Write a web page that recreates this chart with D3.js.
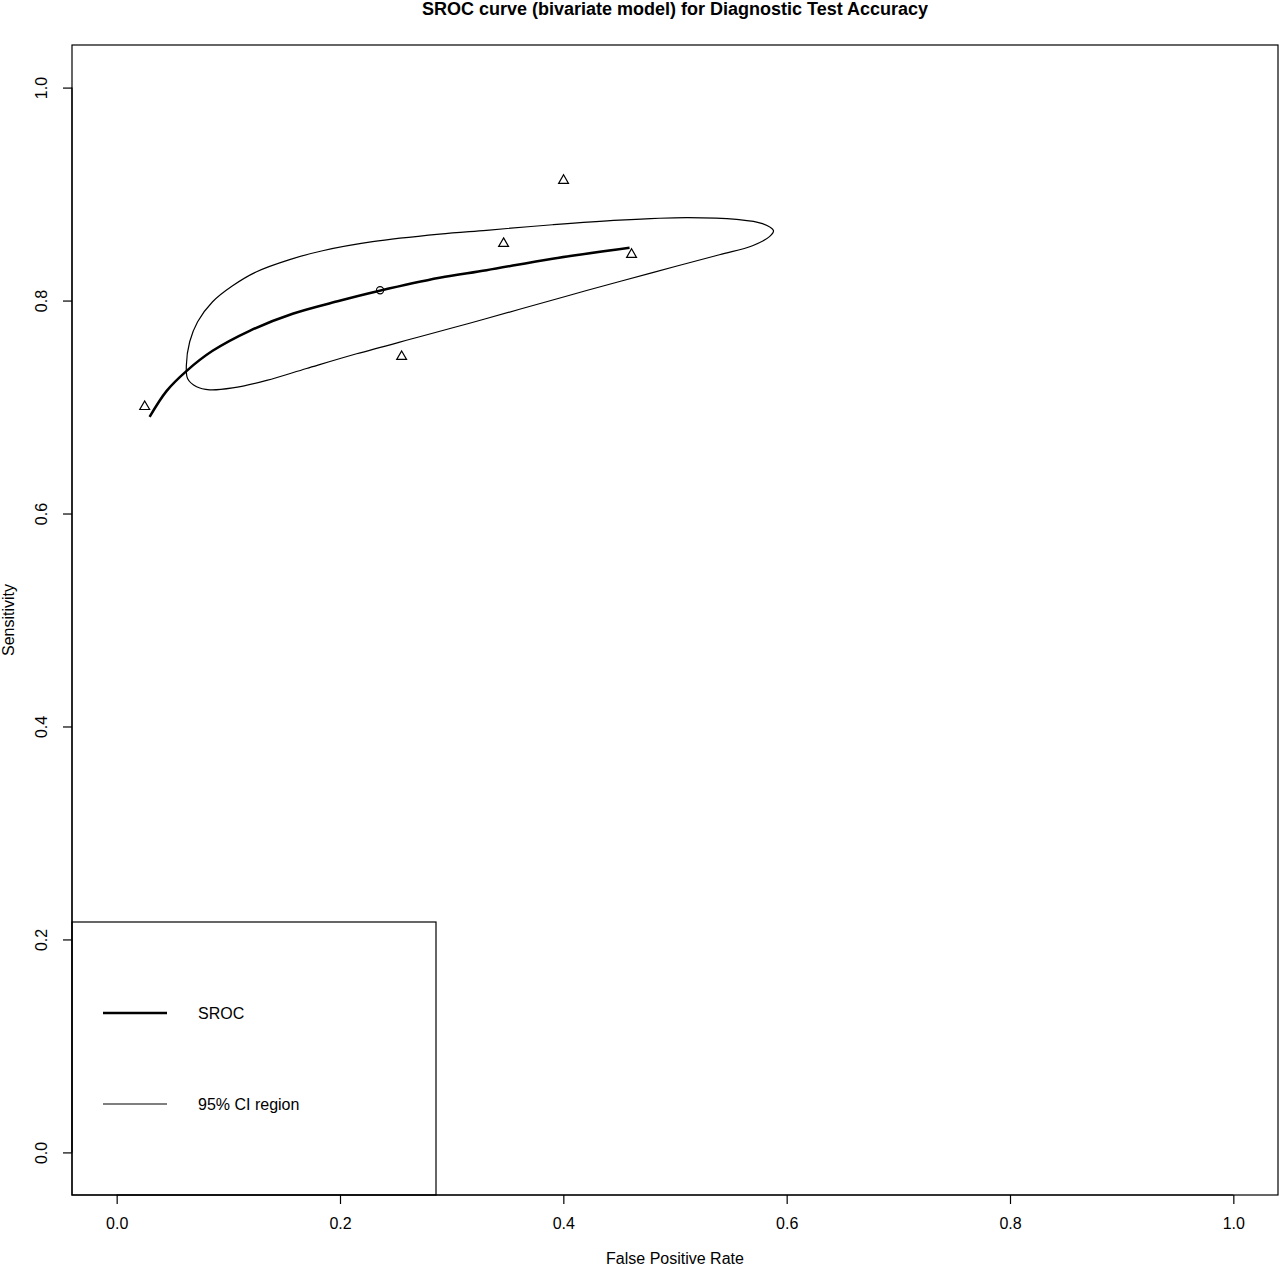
<!DOCTYPE html>
<html>
<head>
<meta charset="utf-8">
<script src="https://cdn.jsdelivr.net/npm/d3@7/dist/d3.min.js"></script>
<style>
  html, body { margin: 0; padding: 0; background: #fff; }
  svg { display: block; font-family: "Liberation Sans", Arial, Helvetica, sans-serif; }
</style>
</head>
<body>
<svg id="chart" width="1280" height="1268"></svg>
<script>
// ---- Data ----
const chartTitle = "SROC curve (bivariate model) for Diagnostic Test Accuracy";
const xLabel = "False Positive Rate";
const yLabel = "Sensitivity";
const tickValues = [0.0, 0.2, 0.4, 0.6, 0.8, 1.0];
const tickLabels = ["0.0", "0.2", "0.4", "0.6", "0.8", "1.0"];

// individual studies (false positive rate, sensitivity)
const studyFpr  = [0.0251, 0.2552, 0.3465, 0.4002, 0.4611];
const studySens = [0.7011, 0.7481, 0.8543, 0.9135, 0.8440];

// summary estimate
const summaryFpr = [0.2359];
const summarySens = [0.8097];

// SROC curve
const srocFpr  = [0.0295, 0.0448, 0.0627, 0.0859, 0.1191, 0.1576, 0.1996, 0.2355, 0.2892, 0.3312, 0.3903, 0.4593];
const srocSens = [0.6908, 0.7152, 0.7340, 0.7528, 0.7716, 0.7876, 0.7998, 0.8092, 0.8214, 0.8285, 0.8393, 0.8496];

// 95% confidence region (closed contour)
const ciFpr  = [0.0624, 0.0654, 0.0725, 0.0859, 0.1038, 0.1253, 0.1549, 0.1844, 0.2292, 0.2892, 0.3312, 0.3903,
                0.4503, 0.5103, 0.5551, 0.5783, 0.5882, 0.5846, 0.5694, 0.5398, 0.4799, 0.4208, 0.3608, 0.3160,
                0.2713, 0.2149, 0.1701, 0.1343, 0.1038, 0.0833, 0.0716, 0.0636];
const ciSens = [0.7390, 0.7613, 0.7801, 0.7989, 0.8139, 0.8271, 0.8385, 0.8468, 0.8553, 0.8624, 0.8660, 0.8712,
                0.8755, 0.8778, 0.8762, 0.8722, 0.8656, 0.8600, 0.8515, 0.8430, 0.8263, 0.8094, 0.7918, 0.7787,
                0.7660, 0.7500, 0.7362, 0.7250, 0.7180, 0.7162, 0.7190, 0.7265];

const legendLabels = ["SROC", "95% CI region"];
const legendWidths = [2.5, 1.2];

// ---- Layout ----
const svg = d3.select("#chart");
const plot = { left: 72, right: 1278, top: 45, bottom: 1195 };

const x = d3.scaleLinear().domain([-0.04, 1.04]).range([plot.left, plot.right]);
const y = d3.scaleLinear().domain([-0.04, 1.04]).range([plot.bottom, plot.top]);

// Title
svg.append("text")
  .attr("x", (plot.left + plot.right) / 2)
  .attr("y", 15)
  .attr("text-anchor", "middle")
  .attr("font-weight", "bold")
  .attr("font-size", 18)
  .text(chartTitle);

// Axes
const fmt = (d) => tickLabels[tickValues.indexOf(d)];
const xAxis = d3.axisBottom(x).tickValues(tickValues).tickFormat(fmt).tickSize(9).tickSizeOuter(0);
const yAxis = d3.axisLeft(y).tickValues(tickValues).tickFormat(fmt).tickSize(9).tickSizeOuter(0);

const gx = svg.append("g").attr("transform", `translate(0,${plot.bottom})`).call(xAxis);
gx.select(".domain").attr("d", `M${x(0)},0H${x(1)}`).attr("stroke", "#000").attr("stroke-width", 1.2);
gx.selectAll(".tick line").attr("stroke", "#000").attr("stroke-width", 1.2);
gx.selectAll(".tick text").attr("font-size", 16).attr("fill", "#000").attr("y", 34).attr("dy", null)
  .attr("font-family", "Liberation Sans, Arial, sans-serif");

const gy = svg.append("g").attr("transform", `translate(${plot.left},0)`).call(yAxis);
gy.select(".domain").attr("d", `M0,${y(0)}V${y(1)}`).attr("stroke", "#000").attr("stroke-width", 1.2);
gy.selectAll(".tick line").attr("stroke", "#000").attr("stroke-width", 1.2);
gy.selectAll(".tick text")
  .attr("font-size", 16).attr("fill", "#000")
  .attr("font-family", "Liberation Sans, Arial, sans-serif")
  .attr("x", null).attr("dy", null)
  .attr("text-anchor", "middle")
  .attr("transform", "translate(-31,0) rotate(-90)")
  .attr("y", 6);

// Box
svg.append("rect")
  .attr("x", plot.left).attr("y", plot.top)
  .attr("width", plot.right - plot.left).attr("height", plot.bottom - plot.top)
  .attr("fill", "none").attr("stroke", "#000").attr("stroke-width", 1.2);

// Axis labels
svg.append("text")
  .attr("x", (plot.left + plot.right) / 2).attr("y", 1264)
  .attr("text-anchor", "middle").attr("font-size", 16)
  .text(xLabel);
svg.append("text")
  .attr("transform", `translate(14,${(plot.top + plot.bottom) / 2}) rotate(-90)`)
  .attr("text-anchor", "middle").attr("font-size", 16)
  .text(yLabel);

// CI region
const ciPts = ciFpr.map((f, i) => [x(f), y(ciSens[i])]);
svg.append("path")
  .attr("d", d3.line().curve(d3.curveCatmullRomClosed.alpha(0.5))(ciPts))
  .attr("fill", "none").attr("stroke", "#000").attr("stroke-width", 1.2);

// SROC curve
const srocPts = srocFpr.map((f, i) => [x(f), y(srocSens[i])]);
svg.append("path")
  .attr("d", d3.line().curve(d3.curveCatmullRom.alpha(0.5))(srocPts))
  .attr("fill", "none").attr("stroke", "#000").attr("stroke-width", 2.5);

// Study points (triangles)
const tri = d3.symbol().type(d3.symbolTriangle).size(42);
svg.append("g").selectAll("path")
  .data(studyFpr.map((f, i) => [f, studySens[i]]))
  .join("path")
  .attr("d", tri)
  .attr("transform", d => `translate(${x(d[0])},${y(d[1]) + 0.8})`)
  .attr("fill", "none").attr("stroke", "#000").attr("stroke-width", 1.2);

// Summary point (circle)
svg.append("g").selectAll("circle")
  .data(summaryFpr.map((f, i) => [f, summarySens[i]]))
  .join("circle")
  .attr("cx", d => x(d[0])).attr("cy", d => y(d[1]))
  .attr("r", 3.6)
  .attr("fill", "none").attr("stroke", "#000").attr("stroke-width", 1.1);

// Legend
const lg = svg.append("g");
lg.append("rect")
  .attr("x", plot.left).attr("y", 922)
  .attr("width", 436 - plot.left).attr("height", plot.bottom - 922)
  .attr("fill", "none").attr("stroke", "#000").attr("stroke-width", 1.2);
const legendY = [1013, 1104];
legendLabels.forEach((lab, i) => {
  lg.append("line")
    .attr("x1", 103).attr("x2", 167)
    .attr("y1", legendY[i]).attr("y2", legendY[i])
    .attr("stroke", "#000").attr("stroke-width", legendWidths[i]);
  lg.append("text")
    .attr("x", 198).attr("y", legendY[i] + 6)
    .attr("font-size", 16)
    .text(lab);
});
</script>
</body>
</html>
